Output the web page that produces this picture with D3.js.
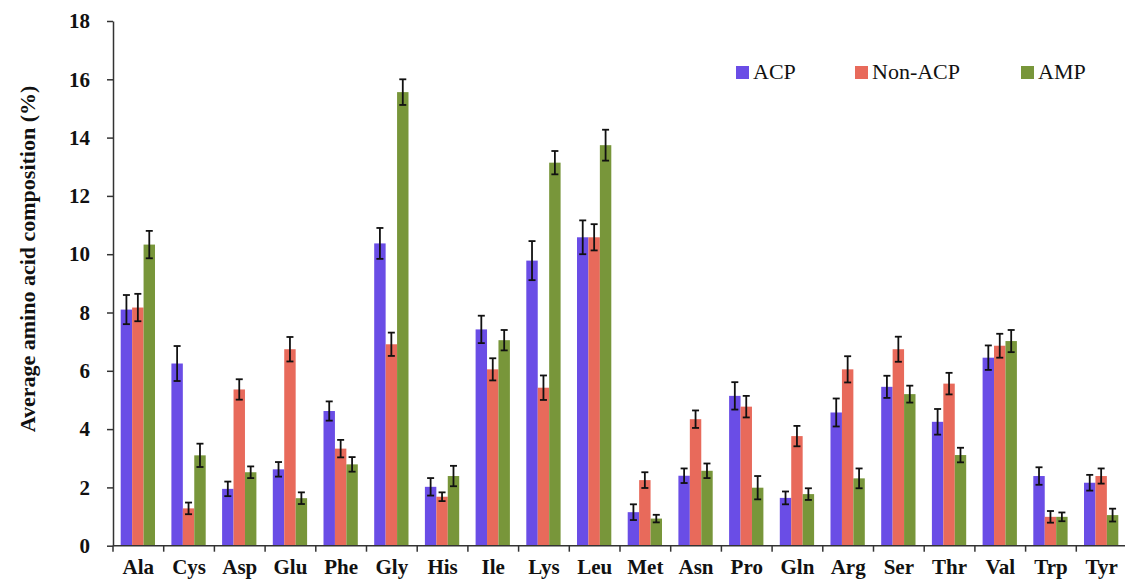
<!DOCTYPE html>
<html lang="en">
<head>
    <meta charset="UTF-8">
    <title>Amino acid composition</title>
    <script src="https://d3js.org/d3.v7.min.js"></script>
    <style>
        body { margin: 0; background: white; }
        svg text { font-family: "Liberation Serif", "Times New Roman", Times, "DejaVu Serif", serif; fill: #111; }
        .axis text { font-weight: bold; }
        .axis path, .axis line { stroke: #333; stroke-width: 1.5; }
    </style>
</head>
<body>
<script>
    const width = 1125;
    const height = 580;

    const aminoAcids = ['Ala','Cys','Asp','Glu','Phe','Gly','His','Ile','Lys','Leu',
        'Met','Asn','Pro','Gln','Arg','Ser','Thr','Val','Trp','Tyr'];
    const seriesNames = ['ACP', 'Non-ACP', 'AMP'];

    const acp    = [8.1, 6.25, 1.95, 2.62, 4.62, 10.37, 2.02, 7.42, 9.78, 10.58, 1.15, 2.4, 5.14, 1.64, 4.57, 5.45, 4.25, 6.45, 2.39, 2.16];
    const nonAcp = [8.17, 1.28, 5.36, 6.74, 3.33, 6.91, 1.68, 6.05, 5.42, 10.58, 2.25, 4.34, 4.77, 3.76, 6.05, 6.74, 5.56, 6.86, 0.99, 2.39];
    const amp    = [10.33, 3.1, 2.52, 1.63, 2.79, 15.56, 2.39, 7.05, 13.14, 13.74, 0.93, 2.57, 1.99, 1.77, 2.31, 5.2, 3.11, 7.02, 0.99, 1.05];

    const acpErr    = [0.5, 0.6, 0.25, 0.25, 0.33, 0.53, 0.3, 0.47, 0.67, 0.58, 0.27, 0.25, 0.47, 0.22, 0.48, 0.38, 0.44, 0.42, 0.3, 0.27];
    const nonAcpErr = [0.47, 0.2, 0.35, 0.42, 0.3, 0.4, 0.15, 0.38, 0.42, 0.45, 0.27, 0.3, 0.37, 0.35, 0.45, 0.43, 0.37, 0.41, 0.2, 0.26];
    const ampErr    = [0.47, 0.4, 0.2, 0.2, 0.25, 0.44, 0.35, 0.35, 0.4, 0.53, 0.13, 0.25, 0.4, 0.2, 0.34, 0.29, 0.25, 0.38, 0.15, 0.22];

    const yTicks = [0, 2, 4, 6, 8, 10, 12, 14, 16, 18];

    const color = d3.scaleOrdinal()
        .domain(seriesNames)
        .range(['#6a4de6', '#e86a5b', '#78963a']);

    const values = [acp, nonAcp, amp];
    const errors = [acpErr, nonAcpErr, ampErr];

    const rows = [];
    aminoAcids.forEach((aa, i) => {
        seriesNames.forEach((s, j) => {
            rows.push({aa: aa, series: s, value: values[j][i], err: errors[j][i]});
        });
    });

    const margin = {left: 113, top: 21, bottom: 34};

    const svg = d3.select("body").append("svg").attr("width", width).attr("height", height);

    const x0 = d3.scaleBand().domain(aminoAcids).range([margin.left, margin.left + 20 * 50.7]);
    const x1 = d3.scaleBand().domain(seriesNames).range([7.7, 42]);
    const y = d3.scaleLinear().domain([0, 18]).range([height - margin.bottom - 0.3, margin.top]);

    // bars
    svg.append("g").selectAll("rect")
        .data(rows).join("rect")
        .attr("x", d => x0(d.aa) + x1(d.series))
        .attr("y", d => y(d.value))
        .attr("width", x1.bandwidth())
        .attr("height", d => y(0) - y(d.value))
        .attr("fill", d => color(d.series));

    // error bars
    const eb = svg.append("g").attr("stroke", "#111").attr("stroke-width", 1.8);
    const cx = d => x0(d.aa) + x1(d.series) + x1.bandwidth() / 2;
    eb.selectAll("line.v").data(rows).join("line").attr("class", "v")
        .attr("x1", cx).attr("x2", cx)
        .attr("y1", d => y(d.value + d.err)).attr("y2", d => y(d.value - d.err));
    eb.selectAll("line.t").data(rows).join("line").attr("class", "t")
        .attr("x1", d => cx(d) - 3.5).attr("x2", d => cx(d) + 3.5)
        .attr("y1", d => y(d.value + d.err)).attr("y2", d => y(d.value + d.err));
    eb.selectAll("line.b").data(rows).join("line").attr("class", "b")
        .attr("x1", d => cx(d) - 3.5).attr("x2", d => cx(d) + 3.5)
        .attr("y1", d => y(d.value - d.err)).attr("y2", d => y(d.value - d.err));

    // y axis
    const yAxis = svg.append("g").attr("class", "axis")
        .attr("transform", `translate(${margin.left},0)`)
        .call(d3.axisLeft(y).tickValues(yTicks).tickSize(6).tickPadding(17).tickSizeOuter(0));
    yAxis.selectAll("text").style("font-size", "21px");

    // x axis: labels at centres, ticks at category boundaries
    const xAxis = svg.append("g").attr("class", "axis")
        .attr("transform", `translate(0,${y(0)})`)
        .call(d3.axisBottom(x0).tickSize(0).tickPadding(13).tickSizeOuter(0));
    xAxis.selectAll("text").style("font-size", "21px");
    xAxis.select(".domain").attr("d", `M${margin.left},0H${width}`);
    const bounds = aminoAcids.map(a => x0(a)).concat([x0.range()[1]]);
    xAxis.selectAll("line.bound").data(bounds).join("line").attr("class", "bound")
        .attr("x1", d => d).attr("x2", d => d).attr("y1", 0).attr("y2", 6);

    // y title
    svg.append("text")
        .attr("transform", "translate(35,259) rotate(-90)")
        .attr("text-anchor", "middle")
        .style("font-weight", "bold")
        .style("font-size", "22px")
        .text("Average amino acid composition (%)");

    // legend
    const legendX = [736, 855, 1021];
    const legend = svg.append("g").selectAll("g")
        .data(seriesNames).join("g")
        .attr("transform", (d, i) => `translate(${legendX[i]},66)`);
    legend.append("rect").attr("width", 13).attr("height", 13).attr("fill", d => color(d));
    legend.append("text").attr("x", 17).attr("y", 13).style("font-size", "22px").text(d => d);
</script>
</body>
</html>
